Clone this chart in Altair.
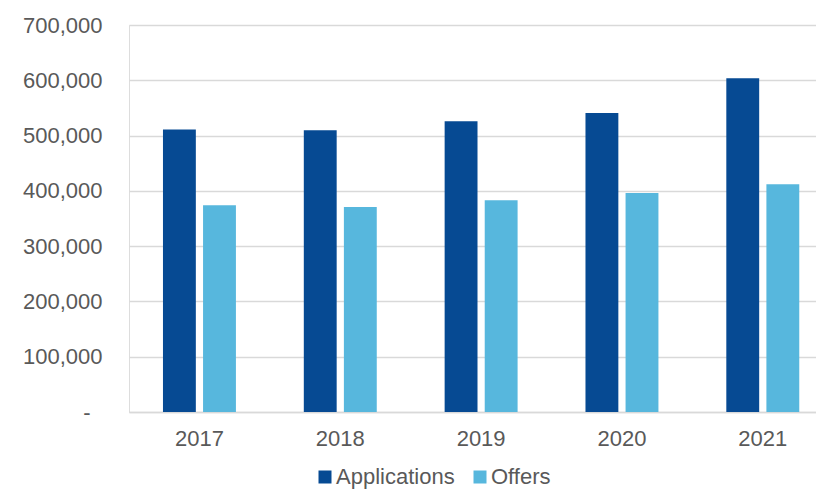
import altair as alt
import pandas as pd

years = ["2017", "2018", "2019", "2020", "2021"]
applications = [511000, 509500, 526000, 541000, 603500]
offers = [374000, 371000, 383000, 396000, 412000]
series = ["Applications", "Offers"]
colors = ["#064A93", "#57B7DD"]

rows = []
for y, a, o in zip(years, applications, offers):
    rows.append({"Year": y, "Series": "Applications", "Value": a})
    rows.append({"Year": y, "Series": "Offers", "Value": o})
df = pd.DataFrame(rows)

grey_text = "#595959"
grid_col = "#d9d9d9"

chart = alt.Chart(df).mark_bar().encode(
    x=alt.X(
        "Year:N",
        sort=years,
        scale=alt.Scale(paddingInner=0.482, paddingOuter=0.18, align=0.67),
        axis=alt.Axis(
            title=None, labelAngle=0, ticks=False, domain=True,
            domainColor=grid_col, domainWidth=1.5, grid=False,
            labelFontSize=22, labelColor=grey_text, labelPadding=16,
        ),
    ),
    xOffset=alt.XOffset(
        "Series:N", sort=series,
        scale=alt.Scale(paddingInner=0.18, paddingOuter=0),
    ),
    y=alt.Y(
        "Value:Q",
        scale=alt.Scale(domain=[0, 700000]),
        axis=alt.Axis(
            title=None, values=list(range(0, 700001, 100000)),
            labelExpr="datum.value == 0 ? '-' : format(datum.value, ',')",
            domain=False, ticks=False, grid=True,
            gridColor=grid_col, gridWidth=1.5,
            labelPadding={"condition": {"test": "datum.value == 0", "value": 39}, "value": 27},
            labelFontSize=22, labelColor=grey_text,
        ),
    ),
    color=alt.Color(
        "Series:N",
        scale=alt.Scale(domain=series, range=colors),
        legend=alt.Legend(
            title=None, orient="none", legendX=185, legendY=441,
            direction="horizontal", symbolType="square", symbolSize=169,
            symbolStrokeWidth=0, labelFontSize=22, labelColor=grey_text,
            columnPadding=14, labelOffset=0, padding=0,
        ),
    ),
).properties(
    width=687,
    height=387,
    autosize=alt.AutoSizeParams(type="none"),
    padding={"left": 121, "top": 17, "right": 0, "bottom": 77},
).configure_view(stroke=None).configure(font="Liberation Sans")

chart.save("out.html", embed_options={"renderer": "svg", "actions": False})
